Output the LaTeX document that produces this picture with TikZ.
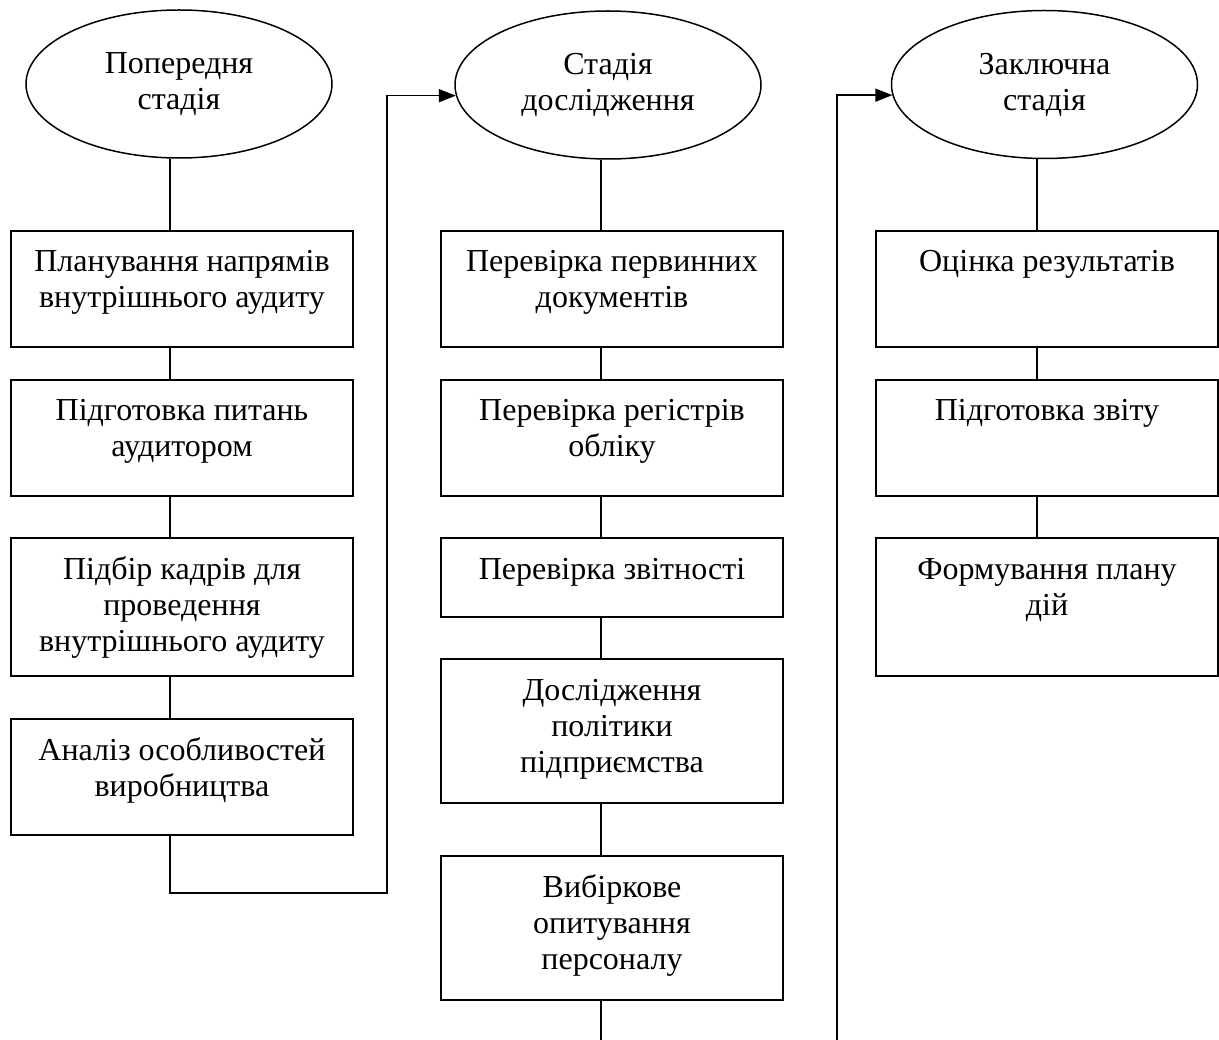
\documentclass[tikz,border=0pt]{standalone}
\usepackage{fontspec}
\setmainfont{Liberation Serif}
\usetikzlibrary{shapes.geometric,arrows.meta}
\newcommand\boxtxt[2]{\parbox[c][#1][t]{342pt}{\centering\rule{0pt}{41pt}#2}}
\tikzset{
  stagebox/.style={draw, rectangle, line width=1.8pt, inner sep=0pt, outer sep=0pt},
  stageoval/.style={draw, ellipse, line width=1.5pt, inner sep=0pt, minimum width=306pt, minimum height=148pt, align=center},
  link/.style={line width=1.7pt},
  arrowlink/.style={line width=1.7pt, -{Triangle[length=17pt,width=13pt]}}
}
\begin{document}
\begin{tikzpicture}[x=1pt,y=-1pt,font=\fontsize{32}{36}\selectfont]
\useasboundingbox (0,0) rectangle (1219,1040);
% vertical connector lines
\coordinate (L1) at (170,0);
\coordinate (L2) at (601,0);
\coordinate (L3) at (1037,0);
\coordinate (j1) at (387,893);
\coordinate (f2) at (601,1040);
\coordinate (f3) at (837,1040);
% ellipses
\node[stageoval] (e1) at (179,84) {Попередня\\стадія};
\node[stageoval] (e2) at (608,85) {Стадія\\дослідження};
\node[stageoval] (e3) at (1044.5,84.5) {Заключна\\стадія};
% column 1
\node[stagebox] (b1) at (182,289) {\boxtxt{116pt}{Планування напрямів\\внутрішнього аудиту}};
\node[stagebox] (b2) at (182,438) {\boxtxt{116pt}{Підготовка питань\\аудитором}};
\node[stagebox] (b3) at (182,607) {\boxtxt{138pt}{Підбір кадрів для\\проведення\\внутрішнього аудиту}};
\node[stagebox] (b4) at (182,777) {\boxtxt{116pt}{Аналіз особливостей\\виробництва}};
% column 2
\node[stagebox] (c1) at (612,289) {\boxtxt{116pt}{Перевірка первинних\\документів}};
\node[stagebox] (c2) at (612,438) {\boxtxt{116pt}{Перевірка регістрів\\обліку}};
\node[stagebox] (c3) at (612,577.5) {\boxtxt{79pt}{Перевірка звітності}};
\node[stagebox] (c4) at (612,731) {\boxtxt{144pt}{Дослідження\\політики\\підприємства}};
\node[stagebox] (c5) at (612,928) {\boxtxt{144pt}{Вибіркове\\опитування\\персоналу}};
% column 3
\node[stagebox] (d1) at (1047,289) {\boxtxt{116pt}{Оцінка результатів}};
\node[stagebox] (d2) at (1047,438) {\boxtxt{116pt}{Підготовка звіту}};
\node[stagebox] (d3) at (1047,607) {\boxtxt{138pt}{Формування плану\\дій}};
% connectors column 1
\draw[link] (e1.south -| L1) -- (b1.north -| L1);
\draw[link] (b1.south -| L1) -- (b2.north -| L1);
\draw[link] (b2.south -| L1) -- (b3.north -| L1);
\draw[link] (b3.south -| L1) -- (b4.north -| L1);
\draw[arrowlink] (b4.south -| L1) |- (j1) |- (e2.184);
% connectors column 2
\draw[link] (e2.south -| L2) -- (c1.north -| L2);
\draw[link] (c1.south -| L2) -- (c2.north -| L2);
\draw[link] (c2.south -| L2) -- (c3.north -| L2);
\draw[link] (c3.south -| L2) -- (c4.north -| L2);
\draw[link] (c4.south -| L2) -- (c5.north -| L2);
\draw[link] (c5.south -| L2) -- (f2);
% connectors column 3
\draw[arrowlink] (f3) |- (e3.184);
\draw[link] (e3.south -| L3) -- (d1.north -| L3);
\draw[link] (d1.south -| L3) -- (d2.north -| L3);
\draw[link] (d2.south -| L3) -- (d3.north -| L3);
\end{tikzpicture}
\end{document}
